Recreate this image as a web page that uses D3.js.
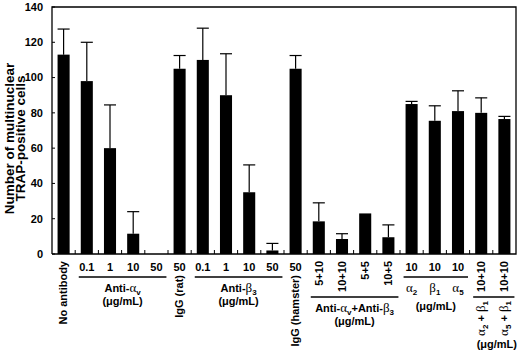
<!DOCTYPE html>
<html>
<head>
<meta charset="utf-8">
<script src="https://cdn.jsdelivr.net/npm/d3@7"></script>
<style>
  body { margin: 0; background: #fff; }
  svg { display: block; font-family: "Liberation Sans", Arial, Helvetica, sans-serif; font-weight: bold; }
</style>
</head>
<body>
<svg id="chart"></svg>
<script>
// labels under each bar (doses), read left to right
const tickLabels = ["No antibody", "0.1", "1", "10", "50", "50", "0.1", "1", "10", "50",
    "50", "5+10", "10+10", "5+5", "10+5", "10", "10", "10", "10+10", "10+10"];
// number of multinuclear TRAP-positive cells
const meanCells = [113, 98, 60, 11.5, 0, 105, 110, 90, 35, 2,
    105, 18.5, 8.5, 23, 9.5, 85, 75.5, 81, 80, 76.5];
// upper error bar length
const sdCells = [14.5, 22, 24.5, 12.5, 0, 7.5, 18, 23.5, 15.5, 4,
    7.5, 10.5, 3, 0, 7, 1.5, 8.5, 11.5, 8.5, 1.5];
const controlLabels = [
    { bar: 5, text: "IgG (rat)" },
    { bar: 10, text: "IgG (hamster)" }
];
// "_" marks the next char as subscript
const groups = [
    { from: 1, to: 4, lines: ["Anti-α_v", "(μg/mL)"] },
    { from: 6, to: 9, lines: ["Anti-β_3", "(μg/mL)"] },
    { from: 11, to: 14, lines: ["Anti-α_v+Anti-β_3", "(μg/mL)"] },
    { from: 15, to: 17, each: ["α_2", "β_1", "α_5"], lines: ["(μg/mL)"] },
    { from: 18, to: 19, each: ["α_2 + β_1", "α_5 + β_1"], lines: ["(μg/mL)"] }
];
const yTicks = [0, 20, 40, 60, 80, 100, 120, 140];
const yTitle = ["Number of multinuclear", "TRAP-positive cells"];

const width = 520, height = 351;
const margin = { top: 7, right: 4, bottom: 97, left: 52 };

const svg = d3.select("#chart").attr("width", width).attr("height", height);

const x = d3.scaleBand()
    .domain(d3.range(tickLabels.length))
    .range([margin.left, width - margin.right])
    .paddingInner(0.48)
    .paddingOuter(0.24);

const y = d3.scaleLinear()
    .domain([0, 140])
    .range([height - margin.bottom, margin.top]);

const y0 = y(0);
const isRotated = s => s.includes("+") || s.length > 4;

// split a label into runs of plain / greek / subscript text
function rich(text, str) {
    const runs = [];
    for (let i = 0; i < str.length; i++) {
        let ch = str[i], sub = false;
        if (ch === "_") { sub = true; ch = str[++i]; }
        const greek = /[αβ]/.test(ch);
        const last = runs[runs.length - 1];
        if (last && !sub && !greek && !last.sub && !last.greek) last.t += ch;
        else runs.push({ t: ch, sub, greek });
    }
    let shifted = false;
    runs.forEach(r => {
        const ts = text.append("tspan").text(r.t);
        if (r.greek) ts.attr("font-family", "'Liberation Serif', 'Times New Roman', serif")
            .attr("font-weight", "normal").attr("font-size", 13);
        if (r.sub) { ts.attr("dy", 3).attr("font-size", 8); shifted = true; }
        else if (shifted) { ts.attr("dy", -3); shifted = false; }
    });
}

// frame
svg.append("path")
    .attr("d", `M${margin.left},${y0}V${margin.top}H${width - margin.right}V${y0}H${margin.left}`)
    .attr("fill", "none")
    .attr("stroke", "#000")
    .attr("stroke-width", 1.3);

// y axis ticks (inward) + labels
const yAxis = svg.append("g");
yAxis.selectAll("line")
    .data(yTicks)
    .enter().append("line")
    .attr("x1", margin.left).attr("x2", margin.left + 3)
    .attr("y1", d => y(d)).attr("y2", d => y(d))
    .attr("stroke", "#000");
yAxis.selectAll("text")
    .data(yTicks)
    .enter().append("text")
    .attr("x", margin.left - 9)
    .attr("y", d => y(d))
    .attr("dy", "0.35em")
    .attr("text-anchor", "end")
    .attr("font-size", 11)
    .text(d => d);

// y title
svg.append("g")
    .attr("transform", `translate(12,${(margin.top + y0) / 2 + 8}) rotate(-90)`)
    .selectAll("text")
    .data(yTitle)
    .enter().append("text")
    .attr("text-anchor", "middle")
    .attr("y", (d, i) => -3 + i * 11)
    .attr("dy", "0.35em")
    .attr("font-size", 13.5)
    .text(d => d);

// small ticks between bars
svg.append("g").selectAll("line")
    .data(d3.range(1, tickLabels.length))
    .enter().append("line")
    .attr("x1", i => x(i) - x.step() * x.paddingInner() / 2)
    .attr("x2", i => x(i) - x.step() * x.paddingInner() / 2)
    .attr("y1", y0).attr("y2", y0 - 4)
    .attr("stroke", "#000");

// bars
svg.append("g").selectAll("rect")
    .data(meanCells)
    .enter().append("rect")
    .attr("x", (d, i) => x(i))
    .attr("width", x.bandwidth())
    .attr("y", d => y(d))
    .attr("height", d => y0 - y(d))
    .attr("fill", "#000");

// error bars (upper only)
const err = svg.append("g")
    .attr("stroke", "#000")
    .attr("stroke-width", 1.2)
    .selectAll("g")
    .data(meanCells.map((m, i) => ({ i, m, sd: sdCells[i] })).filter(d => d.sd > 0))
    .enter().append("g");
err.append("line")
    .attr("x1", d => x(d.i) + x.bandwidth() / 2)
    .attr("x2", d => x(d.i) + x.bandwidth() / 2)
    .attr("y1", d => y(d.m))
    .attr("y2", d => y(d.m + d.sd));
err.append("line")
    .attr("x1", d => x(d.i))
    .attr("x2", d => x(d.i) + x.bandwidth())
    .attr("y1", d => y(d.m + d.sd))
    .attr("y2", d => y(d.m + d.sd));

// tick labels
const cx = i => x(i) + x.bandwidth() / 2;
tickLabels.forEach((lab, i) => {
    if (isRotated(lab)) {
        svg.append("text")
            .attr("transform", `translate(${cx(i)},${y0 + 7}) rotate(-90)`)
            .attr("text-anchor", "end")
            .attr("dy", "0.35em")
            .attr("font-size", 11)
            .text(lab);
    } else {
        svg.append("text")
            .attr("x", cx(i))
            .attr("y", y0 + 13)
            .attr("dy", "0.35em")
            .attr("text-anchor", "middle")
            .attr("font-size", 11)
            .text(lab);
    }
});

controlLabels.forEach(c => {
    svg.append("text")
        .attr("transform", `translate(${cx(c.bar)},${y0 + 21}) rotate(-90)`)
        .attr("text-anchor", "end")
        .attr("dy", "0.35em")
        .attr("font-size", 11)
        .text(c.text);
});

// group brackets and captions
groups.forEach(g => {
    const rot = d3.range(g.from, g.to + 1).some(i => isRotated(tickLabels[i]));
    const lineY = y0 + (rot ? 43 : 23);
    const x1 = x(g.from) - 2, x2 = x(g.to) + x.bandwidth() + 4;
    svg.append("line")
        .attr("x1", x1).attr("x2", x2)
        .attr("y1", lineY).attr("y2", lineY)
        .attr("stroke", "#000").attr("stroke-width", 1.3);
    let next = lineY + 11;
    if (g.each) {
        g.each.forEach((s, k) => {
            const i = g.from + k;
            if (rot) {
                const t = svg.append("text")
                    .attr("transform", `translate(${cx(i)},${lineY + 4}) rotate(-90)`)
                    .attr("text-anchor", "end")
                    .attr("dy", "0.35em")
                    .attr("font-size", 11);
                rich(t, s);
            } else {
                const t = svg.append("text")
                    .attr("x", cx(i)).attr("y", lineY + 11)
                    .attr("dy", "0.35em")
                    .attr("text-anchor", "middle")
                    .attr("font-size", 11);
                rich(t, s);
            }
        });
        next = rot ? lineY + 47 : lineY + 29;
    }
    g.lines.forEach((s, k) => {
        const t = svg.append("text")
            .attr("x", (x1 + x2) / 2 + (g.each && rot ? 3 : 0))
            .attr("y", next + k * 13.5)
            .attr("dy", "0.35em")
            .attr("text-anchor", "middle")
            .attr("font-size", 11);
        rich(t, s);
    });
});
</script>
</body>
</html>
